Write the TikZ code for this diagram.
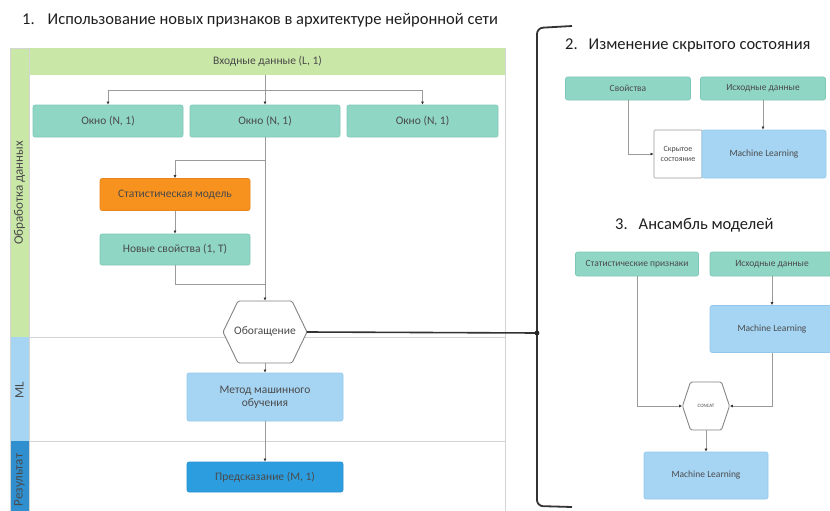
\documentclass[tikz,border=0pt]{standalone}
\usepackage{fontspec}
\setmainfont{Carlito}
\usetikzlibrary{calc,arrows.meta}

\definecolor{cteal}{HTML}{8FD6C5}
\definecolor{ctealedge}{HTML}{7CC7B5}
\definecolor{cgreen}{HTML}{C9E7A7}
\definecolor{corange}{HTML}{F7921E}
\definecolor{corangeedge}{HTML}{E9861A}
\definecolor{clight}{HTML}{A6D5F4}
\definecolor{clightedge}{HTML}{93C8EC}
\definecolor{cblue}{HTML}{2C9EE0}
\definecolor{cblueedge}{HTML}{2A8FCC}
\definecolor{clanedark}{HTML}{2F8FCF}
\definecolor{cline}{HTML}{9A9A9A}
\definecolor{cframe}{HTML}{D4D4D4}
\definecolor{ctxt}{HTML}{4A4A4A}
\definecolor{ctitle}{HTML}{1E1E1E}

% draws a hexagon with flat top and bottom around centre (#1,#2)
\newcommand{\drawhexagon}[5]{%
  \filldraw[hexline] ({#1-#3+#5},{#2-#4}) -- ({#1+#3-#5},{#2-#4}) -- ({#1+#3},{#2})
    -- ({#1+#3-#5},{#2+#4}) -- ({#1-#3+#5},{#2+#4}) -- ({#1-#3},{#2}) -- cycle;}

\tikzset{
  box/.style={rectangle, rounded corners=2pt, align=center, text=ctxt,
    font=\fontsize{11.5}{13}\selectfont, inner sep=2pt, line width=0.6pt},
  tealbox/.style={box, fill=cteal, draw=ctealedge},
  orangebox/.style={box, fill=corange, draw=corangeedge},
  lightbox/.style={box, fill=clight, draw=clightedge},
  bluebox/.style={box, fill=cblue, draw=cblueedge},
  smallbox/.style={font=\fontsize{9.5}{11}\selectfont},
  hexlabel/.style={rectangle, align=center, text=ctxt, inner sep=0pt},
  hexline/.style={draw=cline!85!black, fill=white, line width=0.9pt, rounded corners=1.5pt},
  conn/.style={draw=cline, line width=0.8pt},
  arr/.style={conn, -{Latex[length=3.2pt,width=3pt,fill=black!80,color=black!80]}},
  link/.style={draw=black!80, line width=1.6pt},
  bracketline/.style={draw=black!80, line width=1.8pt, rounded corners=6pt},
  title/.style={anchor=west, text=ctitle, font=\fontsize{16.5}{19}\selectfont, inner sep=0pt},
  lanetext/.style={rotate=90, text=ctxt, font=\fontsize{13}{15}\selectfont, inner sep=0pt},
}

\begin{document}
\begin{tikzpicture}[x=1pt, y=-1pt]
\useasboundingbox (0,0) rectangle (830,511);

% ---------- swimlanes ----------
\fill[cgreen] (10,48) rectangle (29,337);
\fill[clight] (10,337) rectangle (29,441);
\fill[clanedark] (10,441) rectangle (29,530);
\draw[cframe, line width=0.8pt] (10,48) rectangle (505,530);
\draw[cframe, line width=0.8pt] (29,48) -- (29,530);
\draw[cframe, line width=0.8pt] (29,337) -- (505,337);
\draw[cframe, line width=0.8pt] (29,441) -- (505,441);

\node[lanetext] (laneA) at (19.5,193) {Обработка данных};
\node[lanetext] (laneB) at (19.5,390) {ML};
\node[lanetext] (laneC) at (19.5,480) {Результат};

% ---------- panel 1 ----------
\node[title] (t1) at (22,20) {1.\hspace{13pt}Использование новых признаков в архитектуре нейронной сети};

\node[box, fill=cgreen, rounded corners=0pt, minimum width=475pt, minimum height=27pt] (in) at (267.5,61.5) {Входные данные (L, 1)};

\node[tealbox, minimum width=150pt, minimum height=32pt] (w1) at (108,121) {Окно (N, 1)};
\node[tealbox, minimum width=150pt, minimum height=32pt] (w2) at (265,121) {Окно (N, 1)};
\node[tealbox, minimum width=151pt, minimum height=32pt] (w3) at (422.5,121) {Окно (N, 1)};

\node[orangebox, minimum width=150pt, minimum height=32pt] (stat) at (175,194.5) {Статистическая модель};
\node[tealbox, minimum width=150pt, minimum height=31pt] (props) at (175,249.5) {Новые свойства (1, T)};

\drawhexagon{265}{332}{42}{31}{15}
\node[hexlabel, minimum width=84pt, minimum height=62pt, font=\fontsize{11.5}{13}\selectfont] (hex) at (265,332) {Обогащение};

\node[lightbox, minimum width=156pt, minimum height=48pt] (ml) at (265,397) {Метод машинного\\обучения};
\node[bluebox, minimum width=156pt, minimum height=30pt] (pred) at (265,477) {Предсказание (M, 1)};

% connectors of panel 1
\coordinate (split) at (265,90);
\coordinate (j1) at (265,160);
\coordinate (j2) at (265,284);
\draw[conn] (in.south -| w2.north) -- (split);
\draw[arr] (split) -| (w1.north);
\draw[arr] (split) -- (w2.north);
\draw[arr] (split) -| (w3.north);
\draw[conn] (w2.south) -- (j1);
\draw[arr] (j1) -| (stat.north);
\draw[arr] (stat.south) -- (props.north);
\draw[conn] (props.south) |- (j2);
\draw[arr] (j1) -- (hex.north);
\draw[arr] (hex.south) -- (ml.north);
\draw[arr] (ml.south) -- (pred.north);

% ---------- bracket joining the panels ----------
\coordinate (bk) at (537,333);
\draw[bracketline] (572,26) -- (537,28) -- (537,506) -- (572,507);
\draw[link] (hex.east) -- (bk);
\fill[black!85] (bk) circle (2.4pt);

% ---------- panel 2 ----------
\node[title] (t2) at (565,45) {2.\hspace{11pt}Изменение скрытого состояния};
\node[tealbox, smallbox, minimum width=125pt, minimum height=23pt] (sv) at (628,88.5) {Свойства};
\node[tealbox, smallbox, minimum width=125pt, minimum height=23pt] (src2) at (763,88.5) {Исходные данные};
\node[box, draw=cline, fill=white, rounded corners=1pt, minimum width=48pt, minimum height=48pt,
      font=\fontsize{8}{10}\selectfont, inner sep=1pt] (hid) at (678,154) {Скрытое\\состояние};
\node[lightbox, smallbox, minimum width=124pt, minimum height=48pt] (ml2) at (764,154) {Machine Learning};
\draw[arr] (sv.south) |- (hid.west);
\draw[arr] (src2.south) -- (src2.south |- ml2.north);

% ---------- panel 3 ----------
\node[title] (t3) at (615,225) {3.\hspace{11pt}Ансамбль моделей};
\node[tealbox, smallbox, minimum width=123pt, minimum height=24pt] (stp) at (637,264) {Статистические признаки};
\node[tealbox, smallbox, minimum width=124pt, minimum height=24pt] (src3) at (772,264) {Исходные данные};
\node[lightbox, smallbox, minimum width=124pt, minimum height=47pt] (ml3) at (772,329) {Machine Learning};
\drawhexagon{706}{406}{23.5}{24}{8}
\node[hexlabel, minimum width=47pt, minimum height=48pt, font=\fontsize{5}{6}\selectfont] (cc) at (706,406) {CONCAT};
\node[lightbox, smallbox, minimum width=124pt, minimum height=47pt] (ml4) at (706,475.5) {Machine Learning};
\draw[arr] (src3.south) -- (ml3.north);
\draw[arr] (stp.south) |- (cc.west);
\draw[arr] (ml3.south) |- (cc.east);
\draw[arr] (cc.south) -- (ml4.north);

\end{tikzpicture}
\end{document}
